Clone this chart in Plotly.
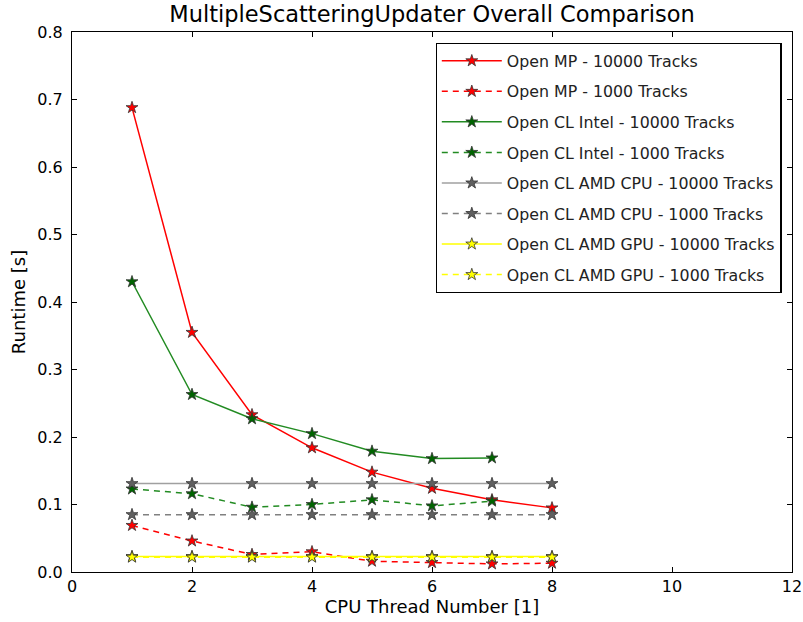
import plotly.graph_objects as go

threads = [1, 2, 3, 4, 5, 6, 7, 8]
threads_intel = [1, 2, 3, 4, 5, 6, 7]

omp_10000 = [0.688, 0.355, 0.233, 0.184, 0.148, 0.124, 0.107, 0.095]
omp_1000 = [0.069, 0.046, 0.026, 0.030, 0.016, 0.014, 0.012, 0.013]
intel_10000 = [0.430, 0.263, 0.227, 0.205, 0.179, 0.168, 0.169]
intel_1000 = [0.123, 0.116, 0.096, 0.100, 0.107, 0.098, 0.105]
amdcpu_10000 = [0.131, 0.131, 0.131, 0.131, 0.131, 0.131, 0.131, 0.131]
amdcpu_1000 = [0.085, 0.085, 0.085, 0.085, 0.085, 0.085, 0.085, 0.085]
amdgpu_10000 = [0.023, 0.023, 0.023, 0.023, 0.023, 0.023, 0.023, 0.023]
amdgpu_1000 = [0.022, 0.022, 0.022, 0.022, 0.022, 0.022, 0.022, 0.022]

series = [
    ("Open MP - 10000 Tracks", threads, omp_10000, "#ff0000", "#ff0000", "solid"),
    ("Open MP - 1000 Tracks", threads, omp_1000, "#ff0000", "#ff0000", "dash"),
    ("Open CL Intel - 10000 Tracks", threads_intel, intel_10000, "#228b22", "#006400", "solid"),
    ("Open CL Intel - 1000 Tracks", threads_intel, intel_1000, "#228b22", "#006400", "dash"),
    ("Open CL AMD CPU - 10000 Tracks", threads, amdcpu_10000, "#a0a0a0", "#606060", "solid"),
    ("Open CL AMD CPU - 1000 Tracks", threads, amdcpu_1000, "#808080", "#606060", "dash"),
    ("Open CL AMD GPU - 10000 Tracks", threads, amdgpu_10000, "#ffff00", "#ffff00", "solid"),
    ("Open CL AMD GPU - 1000 Tracks", threads, amdgpu_1000, "#ffff00", "#ffff00", "dash"),
]

fig = go.Figure()
for i, (name, xs, ys, lc, mc, dash) in enumerate(series):
    fig.add_trace(go.Scatter(
        x=xs, y=ys, name=name, mode="lines+markers",
        legendgroup=f"g{i}",
        line=dict(color=lc, width=1.5, dash="6px,5px" if dash == "dash" else "solid"),
        marker=dict(symbol="star", size=9, color=mc, line=dict(color="#333333", width=0.8)),
    ))

axis_common = dict(
    showline=True, linecolor="black", linewidth=1.2, mirror="ticks",
    ticks="inside", ticklen=5, tickcolor="black", showgrid=False, zeroline=False,
    automargin=False,
    tickfont=dict(family="DejaVu Sans", size=16, color="black"),
)

fig.update_layout(
    width=803, height=622,
    margin=dict(l=72, r=11, t=32, b=50),
    paper_bgcolor="white", plot_bgcolor="white",
    title=dict(text="MultipleScatteringUpdater Overall Comparison", x=0.5, xanchor="center",
               xref="paper", y=0.99, yanchor="top",
               font=dict(family="DejaVu Sans", size=22.5, color="black")),
    xaxis=dict(range=[0, 12], dtick=2, title=dict(text="CPU Thread Number [1]", standoff=4,
               font=dict(family="DejaVu Sans", size=18, color="black")), **axis_common),
    yaxis=dict(range=[0, 0.8], dtick=0.1, tickformat=".1f", ticklabelstandoff=5,
               title=dict(text="Runtime [s]", standoff=6,
                          font=dict(family="DejaVu Sans", size=18, color="black")), **axis_common),
    legend=dict(x=0.505, y=0.98, xanchor="left", yanchor="top",
                bordercolor="black", borderwidth=1.2, bgcolor="white",
                font=dict(family="DejaVu Sans", size=15.8, color="#222222"),
                tracegroupgap=7, itemwidth=60),
)

fig.write_html("out.html")
